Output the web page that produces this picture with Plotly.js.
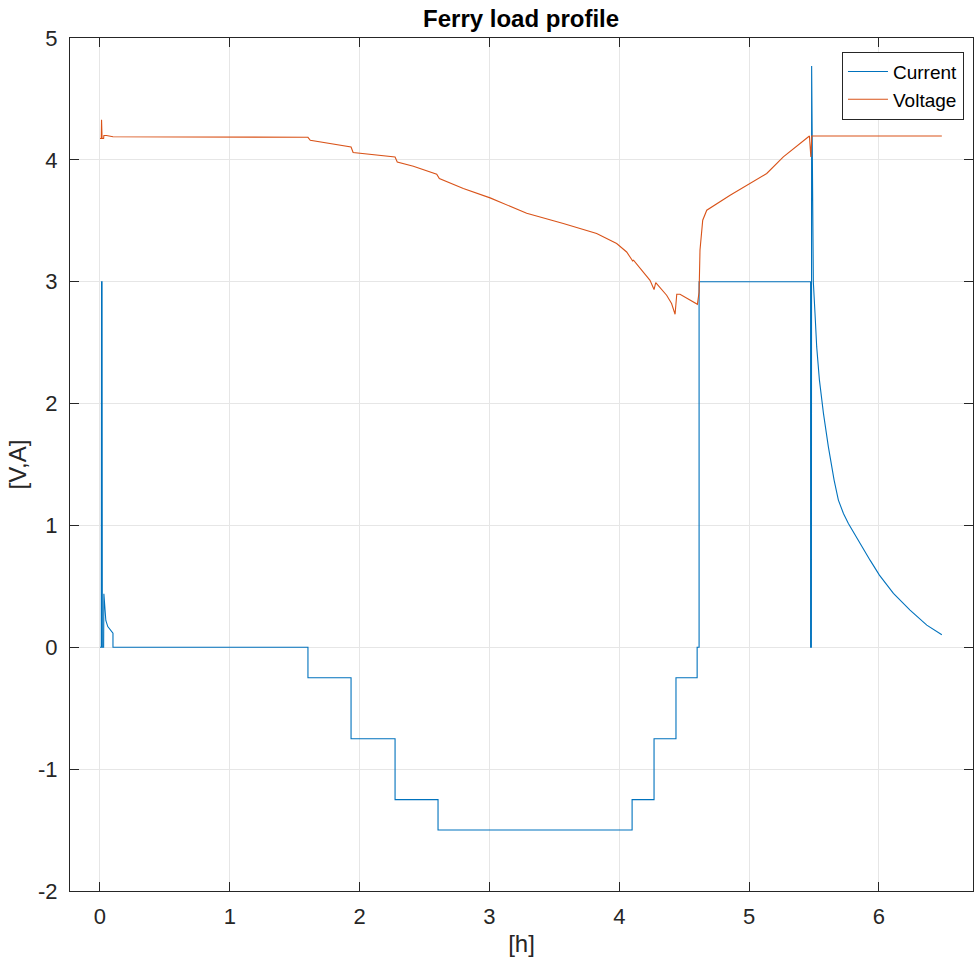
<!DOCTYPE html>
<html>
<head>
<meta charset="utf-8">
<script src="https://cdn.plot.ly/plotly-3.0.1.min.js"></script>
<style>html,body{margin:0;padding:0;background:#fff;}#chart{width:974px;height:963px;}</style>
</head>
<body>
<div id="chart"></div>
<script>
// Current trace (time in hours, current in A)
const currentTime = [0, 0.010, 0.012, 0.016, 0.018, 0.028, 0.030, 0.036, 0.045, 0.060, 0.080, 0.100, 0.100,
  1.602, 1.602, 1.934, 1.934, 2.273, 2.273, 2.604, 2.604, 4.099, 4.099, 4.268, 4.268, 4.437, 4.437, 4.600, 4.600, 4.615, 4.615,
  5.474, 5.474, 5.480, 5.482, 5.486, 5.495, 5.508, 5.521, 5.542, 5.573, 5.611, 5.655, 5.688, 5.727, 5.765, 5.868, 5.932, 6.004,
  6.112, 6.240, 6.369, 6.485];
const currentValue = [0, 0, 3.0, 3.0, 0, 0, 0.44, 0.30, 0.22, 0.17, 0.14, 0.115, 0,
  0, -0.25, -0.25, -0.75, -0.75, -1.25, -1.25, -1.5, -1.5, -1.25, -1.25, -0.75, -0.75, -0.25, -0.25, 0, 0, 3.0,
  3.0, 0, 0, 4.77, 3.84, 3.0, 2.739, 2.465, 2.192, 1.919, 1.645, 1.372, 1.208, 1.098, 1.016, 0.824, 0.715, 0.592,
  0.442, 0.305, 0.182, 0.103];

// Voltage trace (time in hours, voltage in V)
const voltageTime = [0, 0.010, 0.012, 0.016, 0.028, 0.030, 0.050, 0.100, 1.602, 1.620, 1.934, 1.950, 2.273, 2.290, 2.414, 2.594, 2.614,
  2.799, 3.005, 3.287, 3.569, 3.826, 3.980, 4.057, 4.096, 4.103, 4.110, 4.237, 4.268, 4.281, 4.365, 4.403, 4.430, 4.443, 4.468,
  4.545, 4.602, 4.615, 4.622, 4.643, 4.674, 4.854, 5.008, 5.136, 5.264, 5.465, 5.476, 5.483, 6.485];
const voltageValue = [4.175, 4.175, 4.33, 4.175, 4.175, 4.20, 4.20, 4.19, 4.185, 4.16, 4.106, 4.06, 4.024, 3.983, 3.947, 3.882, 3.847,
  3.765, 3.688, 3.562, 3.477, 3.395, 3.313, 3.244, 3.182, 3.171, 3.176, 3.011, 2.936, 2.993, 2.889, 2.821, 2.733, 2.897, 2.897,
  2.848, 2.815, 2.916, 3.26, 3.505, 3.587, 3.71, 3.806, 3.888, 4.024, 4.196, 4.024, 4.196, 4.196];

const xTickVals = [0, 1, 2, 3, 4, 5, 6];
const xTickText = ['0', '1', '2', '3', '4', '5', '6'];
const yTickVals = [-2, -1, 0, 1, 2, 3, 4, 5];
const yTickText = ['-2', '-1', '0', '1', '2', '3', '4', '5'];

const FONT = 'Liberation Sans, Arial, Helvetica, sans-serif';
const AXC = '#262626';

const traces = [
  {x: currentTime, y: currentValue, type: 'scatter', mode: 'lines', name: 'Current',
   line: {color: '#0072BD', width: 1.1}},
  {x: voltageTime, y: voltageValue, type: 'scatter', mode: 'lines', name: 'Voltage',
   line: {color: '#D95319', width: 1.1}}
];

const axisCommon = {
  showline: true, linecolor: AXC, linewidth: 1, mirror: 'ticks',
  ticks: 'inside', ticklen: 9, tickwidth: 1, tickcolor: AXC,
  showgrid: true, gridcolor: '#e6e6e6', gridwidth: 1, zeroline: false,
  tickfont: {family: FONT, size: 22, color: AXC}, tickmode: 'array'
};

const layout = {
  width: 974, height: 963,
  margin: {l: 70, r: 1, t: 38, b: 72, pad: 0},
  paper_bgcolor: '#ffffff', plot_bgcolor: '#ffffff',
  showlegend: true,
  title: {text: '<b>Ferry load profile</b>', font: {family: FONT, size: 24, color: '#000'},
          x: 0.535, xanchor: 'center', y: 0.981, yanchor: 'middle', xref: 'container', yref: 'container'},
  xaxis: Object.assign({}, axisCommon, {
    range: [-0.231, 6.725], tickvals: xTickVals, ticktext: xTickText, ticklabelstandoff: 6,
    title: {text: '[h]', font: {family: FONT, size: 24, color: AXC}, standoff: 6}
  }),
  yaxis: Object.assign({}, axisCommon, {
    range: [-2, 5], tickvals: yTickVals, ticktext: yTickText, ticklabelstandoff: 7,
    title: {text: '[V,A]', font: {family: FONT, size: 24, color: AXC}, standoff: 4}
  }),
  legend: {x: 0.990, xanchor: 'right', y: 0.984, yanchor: 'top',
    bgcolor: '#ffffff', bordercolor: AXC, borderwidth: 1,
    font: {family: FONT, size: 19, color: '#000'}, tracegroupgap: 0, itemwidth: 40}
};

Plotly.newPlot('chart', traces, layout, {displayModeBar: false, staticPlot: true});
</script>
</body>
</html>
